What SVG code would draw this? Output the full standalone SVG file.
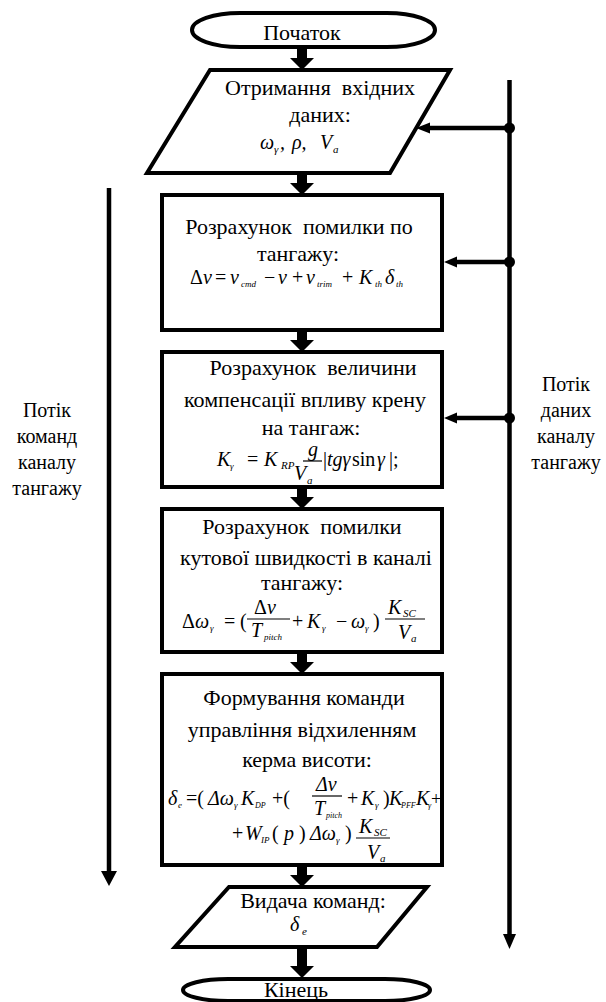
<svg xmlns="http://www.w3.org/2000/svg" width="606" height="1002" viewBox="0 0 606 1002" font-family="Liberation Serif, Times New Roman, serif">
<style>
text{font-family:Liberation Serif, Times New Roman, serif}
.shape{fill:#fff;stroke:#000;stroke-width:4}
.ln{stroke:#000;stroke-width:4.5;fill:none}
.ah{fill:#000}
.t{font-size:22px;text-anchor:middle;fill:#000}
.side{font-size:20px;text-anchor:middle;fill:#000}
.m{font-size:20px;font-style:italic;fill:#000}
.u{font-style:normal}
.s{font-size:11px}
.xs{font-size:9px}
.xxs{font-size:8px}
.bar{stroke:#000;stroke-width:1.2}
</style>
<rect width="606" height="1002" fill="#fff"/>

<g id="connectors">
  <polygon class="ah" points="297,47 307,47 307,58 314,58 302,70 290,58 297,58"/>
  <polygon class="ah" points="297,173 307,173 307,183 314,183 302,195 290,183 297,183"/>
  <polygon class="ah" points="297,330 307,330 307,340 314,340 302,352 290,340 297,340"/>
  <polygon class="ah" points="297,487 307,487 307,497 314,497 302,509 290,497 297,497"/>
  <polygon class="ah" points="297,652 307,652 307,662 314,662 302,674 290,662 297,662"/>
  <polygon class="ah" points="297,865 307,865 307,875 314,875 302,887 290,875 297,875"/>
  <polygon class="ah" points="297,947 307,947 307,966 314,966 302,978 290,966 297,966"/>
  <line class="ln" x1="109" y1="188" x2="109" y2="873"/>
  <polygon class="ah" points="101,871 117,871 109,886"/>
  <line class="ln" x1="509.5" y1="80" x2="509.5" y2="936"/>
  <polygon class="ah" points="503,934 516,934 509.5,949"/>
  <line class="ln" x1="509.5" y1="128" x2="428" y2="128"/>
  <polygon class="ah" points="430,122.5 430,133.5 416,128"/>
  <circle cx="509.5" cy="128" r="5.5"/>
  <line class="ln" x1="509.5" y1="262" x2="454" y2="262"/>
  <polygon class="ah" points="457,256.5 457,267.5 444,262"/>
  <circle cx="509.5" cy="262" r="5.5"/>
  <line class="ln" x1="509.5" y1="418" x2="454" y2="418"/>
  <polygon class="ah" points="457,412.5 457,423.5 444,418"/>
  <circle cx="509.5" cy="418" r="5.5"/>
</g>

<g id="start">
  <rect class="shape" x="192" y="13" width="243" height="34" rx="48" ry="17"/>
  <text class="t" x="302" y="40">Початок</text>
</g>

<g id="input">
  <polygon class="shape" points="210,70 450,70 390,173 147,173"/>
  <text class="t" x="320" y="95">Отримання&#160; вхідних</text>
  <text class="t" x="320" y="122">даних:</text>
  <text class="m"><tspan x="260" y="149">ω</tspan><tspan class="s" x="274" y="153">γ</tspan><tspan x="280" y="149">,</tspan><tspan x="292" y="149">ρ,</tspan><tspan x="320" y="149">V</tspan><tspan class="s" x="333" y="153">a</tspan></text>
</g>

<g id="pitch-error">
  <rect class="shape" x="162" y="195" width="280" height="135"/>
  <text class="t" x="299" y="234">Розрахунок&#160; помилки по</text>
  <text class="t" x="298" y="261">тангажу:</text>
  <text class="m"><tspan class="u" x="190" y="284">Δ</tspan><tspan x="203" y="284">ν</tspan><tspan class="u" x="215" y="284">=</tspan><tspan x="230" y="284">ν</tspan><tspan class="xs" x="241" y="287">cmd</tspan><tspan class="u" x="264" y="284">−</tspan><tspan x="278" y="284">ν</tspan><tspan class="u" x="292" y="284">+</tspan><tspan x="306" y="284">ν</tspan><tspan class="xs" x="317" y="287">trim</tspan><tspan class="u" x="342" y="284">+</tspan><tspan x="359" y="284">K</tspan><tspan class="xs" x="375" y="287">th</tspan><tspan x="385" y="284">δ</tspan><tspan class="xs" x="396" y="287">th</tspan></text>
</g>

<g id="roll-compensation">
  <rect class="shape" x="162" y="352" width="280" height="135"/>
  <text class="t" x="313" y="375">Розрахунок&#160; величини</text>
  <text class="t" x="305" y="407">компенсації впливу крену</text>
  <text class="t" x="311" y="435">на тангаж:</text>
  <text class="m"><tspan x="217" y="466">K</tspan><tspan class="xs" x="230" y="469">γ</tspan><tspan class="u" x="247" y="466">=</tspan><tspan x="264" y="466">K</tspan><tspan class="s" x="281" y="469">RP</tspan><tspan x="308" y="456">g</tspan><tspan x="294" y="480">V</tspan><tspan class="s" x="307" y="484">a</tspan><tspan class="u" x="323" y="466">|</tspan><tspan x="327" y="466">tgγ</tspan><tspan class="u" x="352" y="466">sin</tspan><tspan x="377" y="466">γ</tspan><tspan class="u" x="389" y="466">|;</tspan></text>
  <line class="bar" x1="303" y1="461" x2="322" y2="461"/>
</g>

<g id="rate-error">
  <rect class="shape" x="162" y="509" width="280" height="143"/>
  <text class="t" x="302" y="534">Розрахунок&#160; помилки</text>
  <text class="t" x="306" y="565">кутової швидкості в каналі</text>
  <text class="t" x="302" y="590">тангажу:</text>
  <text class="m"><tspan class="u" x="182" y="628">Δ</tspan><tspan x="195" y="628">ω</tspan><tspan class="xs" x="210" y="631">γ</tspan><tspan class="u" x="224" y="628">=</tspan><tspan class="u" x="240" y="628">(</tspan><tspan class="u" x="254" y="614">Δ</tspan><tspan x="267" y="614">ν</tspan><tspan x="251" y="637">T</tspan><tspan class="xs" x="264" y="640">pitch</tspan><tspan class="u" x="292" y="628">+</tspan><tspan x="307" y="628">K</tspan><tspan class="xs" x="322" y="631">γ</tspan><tspan class="u" x="336" y="628">−</tspan><tspan x="351" y="628">ω</tspan><tspan class="xs" x="365" y="631">γ</tspan><tspan class="u" x="373" y="628">)</tspan><tspan x="388" y="614">K</tspan><tspan class="s" x="403" y="617">SC</tspan><tspan x="398" y="639">V</tspan><tspan class="s" x="411" y="642">a</tspan></text>
  <line class="bar" x1="247" y1="619" x2="290" y2="619"/>
  <line class="bar" x1="385" y1="619" x2="425" y2="619"/>
</g>

<g id="elevator-command">
  <rect class="shape" x="162" y="674" width="280" height="191"/>
  <text class="t" x="304" y="705">Формування команди</text>
  <text class="t" x="302" y="737">управління відхиленням</text>
  <text class="t" x="307" y="767">керма висоти:</text>
  <text class="m"><tspan x="168" y="805">δ</tspan><tspan class="xs" x="178" y="808">e</tspan><tspan class="u" x="186" y="805">=(</tspan><tspan x="208" y="805">Δω</tspan><tspan class="xs" x="234" y="808">γ</tspan><tspan x="241" y="805">K</tspan><tspan class="xxs" x="255" y="808">DP</tspan><tspan class="u" x="272" y="805">+(</tspan><tspan x="316" y="791">Δν</tspan><tspan x="314" y="815">T</tspan><tspan class="xxs" x="326" y="818">pitch</tspan><tspan class="u" x="347" y="805">+</tspan><tspan x="361" y="805">K</tspan><tspan class="xs" x="375" y="808">γ</tspan><tspan class="u" x="383" y="805">)</tspan><tspan x="389" y="805">K</tspan><tspan class="xxs" x="401" y="808">PFF</tspan><tspan x="416" y="805">K</tspan><tspan class="xxs" x="428" y="808">γ</tspan><tspan class="u" font-size="18" x="431" y="805">+</tspan></text>
  <line class="bar" x1="312" y1="796" x2="342" y2="796"/>
  <text class="m"><tspan class="u" x="232" y="840">+</tspan><tspan x="245" y="840">W</tspan><tspan class="xs" x="261" y="843">IP</tspan><tspan class="u" x="272" y="840">(</tspan><tspan x="284" y="840">p</tspan><tspan class="u" x="299" y="840">)</tspan><tspan x="310" y="840">Δω</tspan><tspan class="xs" x="336" y="843">γ</tspan><tspan class="u" x="345" y="840">)</tspan><tspan x="359" y="833">K</tspan><tspan class="s" x="374" y="836">SC</tspan><tspan x="367" y="859">V</tspan><tspan class="s" x="380" y="862">a</tspan></text>
  <line class="bar" x1="356" y1="838" x2="390" y2="838"/>
</g>

<g id="output">
  <polygon class="shape" points="229,887 427,887 377,947 175,947"/>
  <text class="t" x="313" y="908">Видача команд:</text>
  <text class="m"><tspan x="290" y="931">δ</tspan><tspan class="s" x="302" y="935">e</tspan></text>
</g>

<g id="end">
  <rect class="shape" x="183" y="979" width="247" height="22" rx="45" ry="11"/>
  <text class="t" x="296" y="997">Кінець</text>
</g>

<g id="labels">
  <text class="side" x="47" y="417">Потік</text>
  <text class="side" x="47" y="443">команд</text>
  <text class="side" x="47" y="469">каналу</text>
  <text class="side" x="47" y="495">тангажу</text>
  <text class="side" x="566" y="391">Потік</text>
  <text class="side" x="566" y="417">даних</text>
  <text class="side" x="566" y="443">каналу</text>
  <text class="side" x="566" y="469">тангажу</text>
</g>
</svg>
